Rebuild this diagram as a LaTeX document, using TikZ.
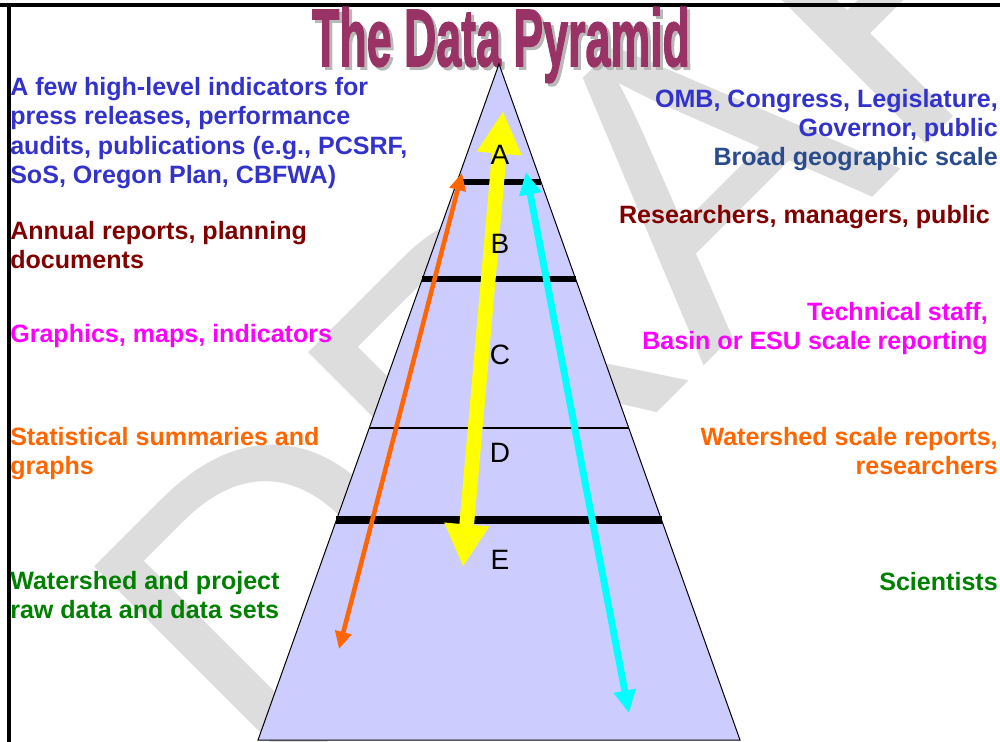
\documentclass[tikz,border=0pt]{standalone}
\usepackage{fontspec}
\usepackage{graphicx}
\setmainfont{Liberation Sans}
\newfontfamily\titlefont[FakeBold=2]{Liberation Sans Bold}
\usetikzlibrary{arrows.meta,calc}

\definecolor{titlepurple}{HTML}{993366}
\definecolor{pyrfill}{HTML}{CCCCFF}
\definecolor{lvlblue}{HTML}{3333CC}
\definecolor{lvlred}{HTML}{800000}
\definecolor{lvlmagenta}{HTML}{FF00FF}
\definecolor{lvlorange}{HTML}{FF6600}
\definecolor{lvlgreen}{HTML}{008000}
\definecolor{lvlcyan}{HTML}{00FFFF}
\definecolor{lvlyellow}{HTML}{FFFF00}
\definecolor{scaleblue}{HTML}{2A4C8C}
\definecolor{draftgray}{HTML}{DDDDDD}

\begin{document}
\begin{tikzpicture}[x=0.75pt, y=-0.75pt, every node/.style={inner sep=0pt},
    lefttxt/.style={anchor=north west, align=left, font=\bfseries\fontsize{18.8}{22}\selectfont},
    righttxt/.style={anchor=north east, align=right, font=\bfseries\fontsize{18.8}{22}\selectfont},
    lvl/.style={font=\fontsize{21}{21}\selectfont}]

        \useasboundingbox (0,0) rectangle (1000,742);

        % watermark
        \node[rotate=45, anchor=base west, text=draftgray, font=\fontsize{315}{315}\selectfont]
            (draft) at (274,796) {DRAFT};

        % frame
        \draw[line width=3pt] (0,5) -- (1000,5);
        \draw[line width=2.6pt] (9,5) -- (9,742);

        % title with shadow
        \node[anchor=base, text=black!28, font=\titlefont\fontsize{61}{61}\selectfont]
            (titleshadow) at (504,69) {\scalebox{0.55}[1]{The Data Pyramid}};
        \node[anchor=base, text=titlepurple, font=\titlefont\fontsize{61}{61}\selectfont]
            (title) at (501,66) {\scalebox{0.55}[1]{The Data Pyramid}};

        % pyramid
        \coordinate (apex) at (499,64);
        \coordinate (bl) at (258,740);
        \coordinate (br) at (740,740);
        \filldraw[fill=pyrfill, draw=black, line width=0.75pt] (apex) -- (bl) -- (br) -- cycle;

        \foreach \yy/\w in {182/4, 279/4, 428/1.5, 520/5.5}
            \draw[line width=\w pt] ($(apex)!{(\yy-64)/676}!(bl)$) -- ($(apex)!{(\yy-64)/676}!(br)$);

        % arrows
        \coordinate (ytop) at (503,111);
        \coordinate (ybot) at (463,567);
        \coordinate (otop) at (462,173);
        \coordinate (obot) at (339,649);
        \coordinate (ctop) at (526,172);
        \coordinate (cbot) at (629,713);

        \draw[lvlorange, line width=3.4pt,
            {Triangle[width=12pt,length=13pt]}-{Triangle[width=12pt,length=13pt]}] (obot) -- (otop);
        \draw[lvlcyan, line width=5.2pt,
            {Triangle[width=16pt,length=17pt]}-{Triangle[width=16pt,length=17pt]}] (cbot) -- (ctop);
        \draw[lvlyellow, line width=11pt,
            {Triangle[width=31.5pt,length=32pt]}-{Triangle[width=31.5pt,length=32pt]}] (ybot) -- (ytop);

        \foreach \l/\yy in {A/155,B/244,C/355,D/453,E/560}
            \node[lvl] (lvl\l) at (500,\yy) {\l};

        % left column
        \node[lefttxt, text=lvlblue] (useA) at (10,77)
            {A few high-level indicators for\\press releases, performance\\audits, publications (e.g., PCSRF,\\SoS, Oregon Plan, CBFWA)};
        \node[lefttxt, text=lvlred] (useB) at (10,221) {Annual reports, planning\\documents};
        \node[lefttxt, text=lvlmagenta] (useC) at (10,324) {Graphics, maps, indicators};
        \node[lefttxt, text=lvlorange] (useD) at (10,427) {Statistical summaries and\\graphs};
        \node[lefttxt, text=lvlgreen] (useE) at (10,571) {Watershed and project\\raw data and data sets};

        % right column
        \node[righttxt, text=lvlblue] (whoA) at (998,89) {OMB, Congress, Legislature,\\Governor, public};
        \node[righttxt, text=scaleblue] (scaleA) at (998,147) {Broad geographic scale};
        \node[righttxt, text=lvlred] (whoB) at (990,205) {Researchers, managers, public};
        \node[righttxt, text=lvlmagenta] (whoC) at (988,302) {Technical staff,\\Basin or ESU scale reporting};
        \node[righttxt, text=lvlorange] (whoD) at (998,427) {Watershed scale reports,\\researchers};
        \node[righttxt, text=lvlgreen] (whoE) at (998,572) {Scientists};

\end{tikzpicture}
\end{document}
